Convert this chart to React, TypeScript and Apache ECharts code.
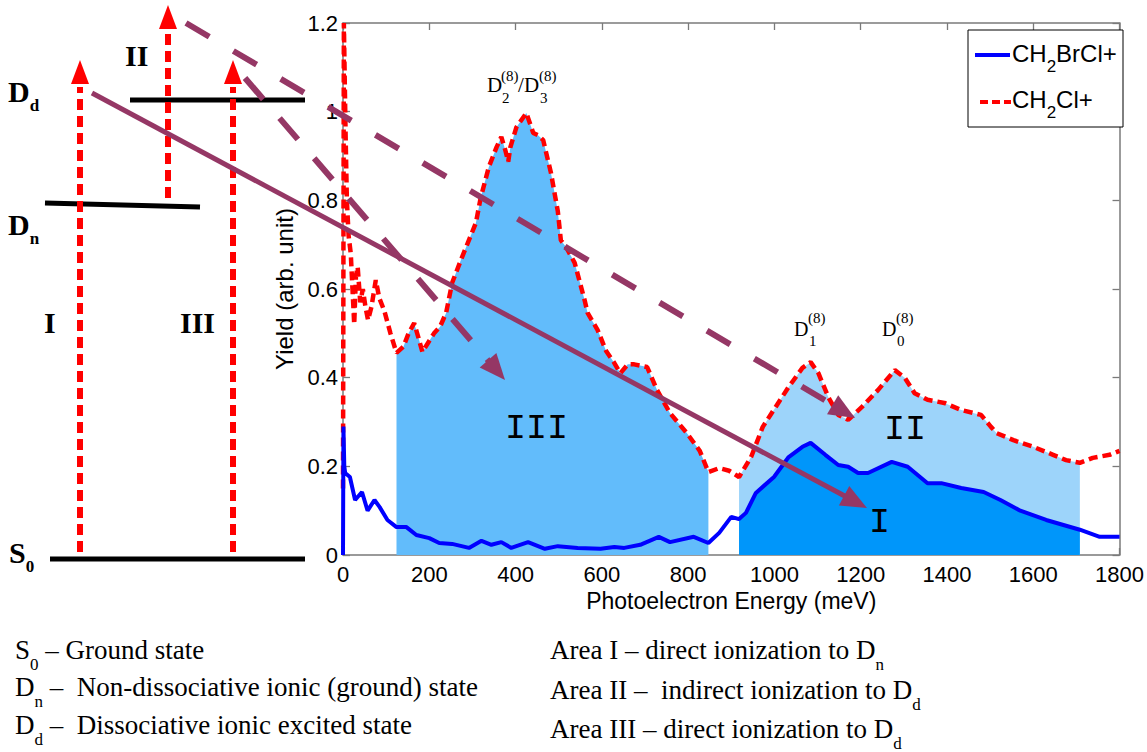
import React, { useEffect, useRef } from "react";
import * as echarts from "echarts";

// ---------- data ----------
const energyRed = [0,2,6,9,13,18,22,26,30,34,40,46,52,58,66,76,84,96,110,124,140,152,165,175,184,198,211,225,239,253,276,308,319,338,356,367,376,383,388,402,425,441,452,464,482,498,505,517,537,560,567,590,610,629,643,660,675,705,728,758,797,827,847,872,895,918,946,973,1003,1033,1065,1084,1102,1125,1148,1171,1203,1240,1279,1302,1325,1355,1394,1433,1479,1502,1515,1554,1600,1646,1676,1708,1738,1777,1800];
const ch2cl = [0.15,1.2,0.95,0.8,0.72,0.68,0.6,0.52,0.63,0.65,0.57,0.6,0.56,0.53,0.56,0.62,0.58,0.55,0.5,0.456,0.47,0.5,0.523,0.49,0.458,0.48,0.5,0.515,0.546,0.614,0.672,0.749,0.805,0.875,0.92,0.943,0.914,0.887,0.92,0.965,0.997,0.952,0.947,0.936,0.862,0.775,0.71,0.695,0.659,0.575,0.546,0.508,0.46,0.433,0.41,0.43,0.43,0.424,0.372,0.32,0.275,0.235,0.187,0.196,0.19,0.176,0.221,0.289,0.334,0.379,0.422,0.435,0.41,0.356,0.316,0.305,0.334,0.372,0.417,0.4,0.365,0.35,0.343,0.327,0.316,0.289,0.275,0.259,0.244,0.226,0.214,0.208,0.219,0.226,0.235];

const energyBlue = [0,1,3,5,16,28,44,57,73,85,103,124,147,170,200,223,253,292,321,344,367,390,429,468,498,544,597,629,652,689,732,758,813,847,872,900,918,934,957,999,1033,1065,1084,1118,1148,1171,1194,1217,1272,1309,1355,1387,1433,1485,1524,1570,1630,1708,1754,1800];
const ch2brcl = [0,0.29,0.2,0.185,0.176,0.124,0.142,0.1,0.124,0.108,0.079,0.063,0.063,0.045,0.038,0.027,0.025,0.016,0.032,0.023,0.029,0.016,0.029,0.014,0.02,0.016,0.014,0.018,0.016,0.023,0.041,0.029,0.041,0.027,0.05,0.086,0.081,0.095,0.14,0.176,0.221,0.244,0.253,0.226,0.203,0.199,0.185,0.185,0.21,0.199,0.162,0.162,0.151,0.142,0.124,0.1,0.079,0.057,0.041,0.041];

const areaIII = [124, 847];
const areaII = [918, 1708];
const areaI = [918, 1708];

const seriesNames = ["CH2BrCl+", "CH2Cl+"];
const xName = "Photoelectron Energy (meV)";
const yName = "Yield (arb. unit)";

const leftNotes = [
  ["S", "0", " – Ground state"],
  ["D", "n", " –  Non-dissociative ionic (ground) state"],
  ["D", "d", " –  Dissociative ionic excited state"],
];
const rightNotes = [
  ["Area I – direct ionization to D", "n"],
  ["Area II –  indirect ionization to D", "d"],
  ["Area III – direct ionization to D", "d"],
];

// ---------- helpers ----------
const pairs = (xs: number[], ys: number[]) => xs.map((x, i) => [x, ys[i]]);
const inRange = (pts: number[][], r: number[]) => pts.filter((p) => p[0] >= r[0] && p[0] <= r[1]);

const PURPLE = "#953765";
const RED = "#ff0000";
const SERIF = "Liberation Serif, Times New Roman, serif";
const SANS = "Liberation Sans, Arial, sans-serif";
const MONO = "Liberation Mono, Courier New, monospace";

function headPoly(x0: number, y0: number, x1: number, y1: number, len: number, hw: number, color: string) {
  const dx = x1 - x0, dy = y1 - y0;
  const L = Math.hypot(dx, dy);
  const ux = dx / L, uy = dy / L;
  const bx = x1 - ux * len, by = y1 - uy * len;
  return {
    type: "polygon",
    z: 100,
    shape: { points: [[x1, y1], [bx - uy * hw, by + ux * hw], [bx + uy * hw, by - ux * hw]] },
    style: { fill: color },
  };
}

function arrow(x0: number, y0: number, x1: number, y1: number, o: any) {
  const dx = x1 - x0, dy = y1 - y0;
  const L = Math.hypot(dx, dy);
  const ux = dx / L, uy = dy / L;
  const ex = x1 - ux * o.len * 0.85, ey = y1 - uy * o.len * 0.85;
  return [
    {
      type: "line",
      z: 100,
      shape: { x1: x0, y1: y0, x2: ex, y2: ey },
      style: { stroke: o.color, lineWidth: o.width, lineDash: o.dash || null, lineCap: "butt" },
    },
    headPoly(x0, y0, x1, y1, o.len, o.hw, o.color),
  ];
}

function txt(text: string, x: number, y: number, font: string, size: number, extra: any = {}) {
  return {
    type: "text",
    z: 110,
    style: {
      text,
      x,
      y,
      fontFamily: font,
      fontSize: size,
      fill: "#000",
      align: "left",
      verticalAlign: "middle",
      ...extra,
    },
  };
}

export default function App() {
  const ref = useRef<HTMLDivElement>(null);

  useEffect(() => {
    if (!ref.current) return;
    const chart = echarts.init(ref.current, null, { renderer: "svg" });

    const red = pairs(energyRed, ch2cl);
    const blue = pairs(energyBlue, ch2brcl);

    const fill = (data: number[][], color: string) => ({
      type: "line",
      data,
      showSymbol: false,
      symbol: "none",
      silent: true,
      lineStyle: { width: 0, opacity: 0 },
      areaStyle: { color, opacity: 1 },
      z: 1,
    });

    const axisGrey = "#7a7a7a";
    const commonX = {
      type: "value",
      min: 0,
      max: 1800,
      interval: 200,
      splitLine: { show: false },
      axisLine: { show: true, onZero: false, lineStyle: { color: axisGrey, width: 1.5 } },
      axisTick: { show: true, inside: true, length: 7, lineStyle: { color: axisGrey, width: 1.3 } },
    };
    const commonY = {
      type: "value",
      min: 0,
      max: 1.2,
      interval: 0.2,
      splitLine: { show: false },
      axisLine: { show: true, onZero: false, lineStyle: { color: axisGrey, width: 1.5 } },
      axisTick: { show: true, inside: true, length: 7, lineStyle: { color: axisGrey, width: 1.3 } },
    };

    const graphics: any[] = [];

    // ---- energy level diagram (left) ----
    const blackLine = (x1: number, y1: number, x2: number, y2: number) => ({
      type: "line",
      z: 100,
      shape: { x1, y1, x2, y2 },
      style: { stroke: "#000", lineWidth: 5 },
    });
    graphics.push(blackLine(130, 100, 305, 100));
    graphics.push(blackLine(45, 203, 200, 207));
    graphics.push(blackLine(50, 559, 305, 559));

    const redArrow = (x: number, yBottom: number, yTop: number, tip: number) => [
      {
        type: "line",
        z: 100,
        shape: { x1: x, y1: yBottom, x2: x, y2: yTop },
        style: { stroke: RED, lineWidth: 6, lineDash: [11, 6] },
      },
      {
        type: "polygon",
        z: 100,
        shape: { points: [[x, tip], [x - 9, tip + 24], [x + 9, tip + 24]] },
        style: { fill: RED },
      },
    ];
    graphics.push(...redArrow(80, 552, 87, 60));
    graphics.push(...redArrow(168, 198, 31, 5));
    graphics.push(...redArrow(233, 552, 87, 60));

    const boldRich = {
      m: { fontFamily: SERIF, fontSize: 30, fontWeight: "bold", lineHeight: 46, fill: "#000" },
      s: { fontFamily: SERIF, fontSize: 17, fontWeight: "bold", verticalAlign: "bottom", fill: "#000" },
    };
    const levelLabel = (main: string, sub: string, x: number, y: number) => ({
      type: "text",
      z: 110,
      style: { text: `{m|${main}}{s|${sub}}`, x, y, align: "left", verticalAlign: "middle", rich: boldRich },
    });
    graphics.push(levelLabel("D", "d", 8, 91));
    graphics.push(levelLabel("D", "n", 8, 224));
    graphics.push(levelLabel("S", "0", 9, 552));
    graphics.push(txt("II", 125, 55, SERIF, 30, { fontWeight: "bold" }));
    graphics.push(txt("I", 44, 322, SERIF, 30, { fontWeight: "bold" }));
    graphics.push(txt("III", 180, 322, SERIF, 30, { fontWeight: "bold" }));

    // ---- purple process arrows ----
    graphics.push(...arrow(92, 93, 867, 508, { color: PURPLE, width: 5, len: 26, hw: 11 }));
    graphics.push(...arrow(186, 23, 855, 418, { color: PURPLE, width: 6, len: 26, hw: 11, dash: [27, 28] }));
    graphics.push(...arrow(245, 78, 505, 380, { color: PURPLE, width: 6, len: 26, hw: 11, dash: [28, 25] }));

    // ---- peak labels ----
    graphics.push(txt("D", 487, 85, SERIF, 21));
    graphics.push(txt("(8)", 501, 76, SERIF, 15));
    graphics.push(txt("2", 502, 98, SERIF, 15));
    graphics.push(txt("/", 518, 85, SERIF, 21));
    graphics.push(txt("D", 524, 85, SERIF, 21));
    graphics.push(txt("(8)", 539, 76, SERIF, 15));
    graphics.push(txt("3", 540, 98, SERIF, 15));

    graphics.push(txt("D", 794, 329, SERIF, 20));
    graphics.push(txt("(8)", 808, 318, SERIF, 15));
    graphics.push(txt("1", 809, 341, SERIF, 15));
    graphics.push(txt("D", 882, 329, SERIF, 20));
    graphics.push(txt("(8)", 896, 318, SERIF, 15));
    graphics.push(txt("0", 897, 341, SERIF, 15));

    // ---- area labels ----
    graphics.push(txt("III", 505, 429, MONO, 35));
    graphics.push(txt("II", 884, 430, MONO, 35));
    graphics.push(txt("I", 869, 523, MONO, 35));

    // ---- legend ----
    const legRich = {
      m: { fontFamily: SANS, fontSize: 24, lineHeight: 44, fill: "#000" },
      s: { fontFamily: SANS, fontSize: 17, verticalAlign: "bottom", fill: "#000" },
    };
    const legText = (name: string) => {
      const i = name.indexOf("2");
      return `{m|${name.slice(0, i)}}{s|2}{m|${name.slice(i + 1)}}`;
    };
    graphics.push({
      type: "rect",
      z: 105,
      shape: { x: 968, y: 30, width: 155, height: 97 },
      style: { fill: "#fff", stroke: "#000", lineWidth: 1 },
    });
    graphics.push({
      type: "line",
      z: 106,
      shape: { x1: 975, y1: 55, x2: 1010, y2: 55 },
      style: { stroke: "#0000ff", lineWidth: 4 },
    });
    graphics.push({
      type: "line",
      z: 106,
      shape: { x1: 980, y1: 102, x2: 1011, y2: 102 },
      style: { stroke: RED, lineWidth: 4, lineDash: [8, 4] },
    });
    graphics.push({
      type: "text",
      z: 110,
      style: { text: legText(seriesNames[0]), x: 1012, y: 53, align: "left", verticalAlign: "middle", rich: legRich },
    });
    graphics.push({
      type: "text",
      z: 110,
      style: { text: legText(seriesNames[1]), x: 1012, y: 99, align: "left", verticalAlign: "middle", rich: legRich },
    });

    // ---- bottom notes ----
    const noteRich = {
      m: { fontFamily: SERIF, fontSize: 27, lineHeight: 46, fill: "#000" },
      s: { fontFamily: SERIF, fontSize: 17, verticalAlign: "bottom", fill: "#000" },
    };
    const leftY = [650, 687, 725];
    leftNotes.forEach((n, i) => {
      graphics.push({
        type: "text",
        z: 110,
        style: { text: `{m|${n[0]}}{s|${n[1]}}{m|${n[2]}}`, x: 15, y: leftY[i], align: "left", verticalAlign: "middle", rich: noteRich },
      });
    });
    const rightY = [650, 690, 729];
    rightNotes.forEach((n, i) => {
      graphics.push({
        type: "text",
        z: 110,
        style: { text: `{m|${n[0]}}{s|${n[1]}}`, x: 550, y: rightY[i], align: "left", verticalAlign: "middle", rich: noteRich },
      });
    });

    chart.setOption({
      animation: false,
      backgroundColor: "#ffffff",
      grid: { left: 343, top: 23, width: 784, height: 532, containLabel: false },
      xAxis: [
        {
          ...commonX,
          position: "bottom",
          axisLabel: {
            show: true,
            color: "#000",
            fontSize: 22,
            fontFamily: SANS,
            margin: 8,
            formatter: (v: number) => String(v),
          },
          name: xName,
          nameLocation: "middle",
          nameGap: 34,
          nameTextStyle: { color: "#000", fontSize: 23, fontFamily: SANS },
        },
        { ...commonX, position: "top", axisLabel: { show: false } },
      ],
      yAxis: [
        {
          ...commonY,
          position: "left",
          axisLabel: {
            show: true,
            color: "#000",
            fontSize: 22,
            fontFamily: SANS,
            margin: 5,
            formatter: (v: number) => String(Math.round(v * 10) / 10),
          },
          name: yName,
          nameLocation: "middle",
          nameRotate: 90,
          nameGap: 44,
          nameTextStyle: { color: "#000", fontSize: 24, fontFamily: SANS },
        },
        { ...commonY, position: "right", axisLabel: { show: false } },
      ],
      series: [
        fill(inRange(red, areaIII), "#62bcfb"),
        fill(inRange(red, areaII), "#9dd4fa"),
        fill(inRange(blue, areaI), "#0096fa"),
        {
          name: seriesNames[1],
          type: "line",
          data: red,
          showSymbol: false,
          symbol: "none",
          lineStyle: { color: RED, width: 4.5, type: [9, 5] },
          z: 3,
        },
        {
          name: seriesNames[0],
          type: "line",
          data: blue,
          showSymbol: false,
          symbol: "none",
          lineStyle: { color: "#0000ff", width: 4 },
          z: 4,
        },
      ],
      graphic: graphics,
    });

    return () => chart.dispose();
  }, []);

  return (
    <div
      ref={ref}
      style={{ position: "fixed", left: 0, top: 0, width: 1147, height: 752, background: "#fff" }}
    />
  );
}
